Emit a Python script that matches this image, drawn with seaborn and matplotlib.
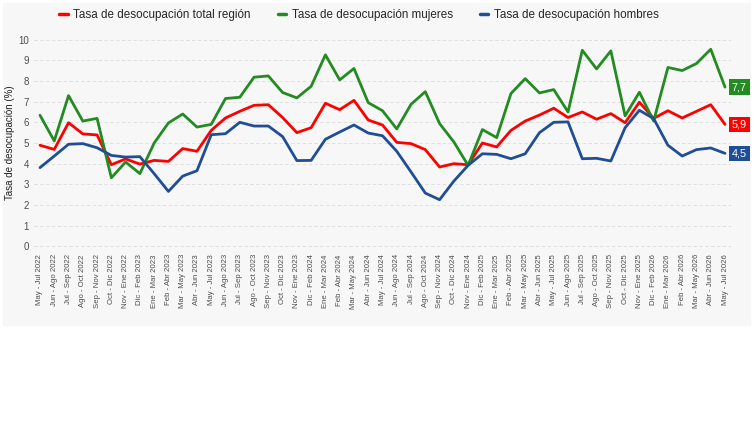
"""Recreate the regional unemployment-rate chart (total, women, men)."""
#####################################
# Imports At the Top
#####################################

import matplotlib

matplotlib.use("Agg")
import matplotlib.pyplot as plt
import pandas as pd
import seaborn as sns
from matplotlib.patches import Rectangle

#####################################
# Data
#####################################

periodos = [
    "May - Jul 2022", "Jun - Ago 2022", "Jul - Sep 2022", "Ago - Oct 2022",
    "Sep - Nov 2022", "Oct - Dic 2022", "Nov - Ene 2022", "Dic - Feb 2023",
    "Ene - Mar 2023", "Feb - Abr 2023", "Mar - May 2023", "Abr - Jun 2023",
    "May - Jul 2023", "Jun - Ago 2023", "Jul - Sep 2023", "Ago - Oct 2023",
    "Sep - Nov 2023", "Oct - Dic 2023", "Nov - Ene 2023", "Dic - Feb 2024",
    "Ene - Mar 2024", "Feb - Abr 2024", "Mar - May 2024", "Abr - Jun 2024",
    "May - Jul 2024", "Jun - Ago 2024", "Jul - Sep 2024", "Ago - Oct 2024",
    "Sep - Nov 2024", "Oct - Dic 2024", "Nov - Ene 2024", "Dic - Feb 2025",
    "Ene - Mar 2025", "Feb - Abr 2025", "Mar - May 2025", "Abr - Jun 2025",
    "May - Jul 2025", "Jun - Ago 2025", "Jul - Sep 2025", "Ago - Oct 2025",
    "Sep - Nov 2025", "Oct - Dic 2025", "Nov - Ene 2025", "Dic - Feb 2026",
    "Ene - Mar 2026", "Feb - Abr 2026", "Mar - May 2026", "Abr - Jun 2026",
    "May - Jul 2026",
]

tasa_total = [
    4.89, 4.69, 5.98, 5.44, 5.39, 3.95, 4.23, 3.98, 4.16, 4.11, 4.73, 4.60,
    5.61, 6.21, 6.53, 6.82, 6.85, 6.23, 5.50, 5.74, 6.92, 6.61, 7.06, 6.11,
    5.87, 5.03, 4.97, 4.68, 3.84, 4.00, 3.95, 5.00, 4.81, 5.61, 6.06, 6.35,
    6.68, 6.23, 6.50, 6.15, 6.42, 5.98, 6.97, 6.19, 6.56, 6.21, 6.53, 6.85,
    5.9,
]

tasa_mujeres = [
    6.34, 5.10, 7.29, 6.06, 6.19, 3.32, 4.08, 3.52, 5.00, 5.97, 6.40, 5.77,
    5.90, 7.15, 7.21, 8.18, 8.24, 7.44, 7.18, 7.74, 9.26, 8.05, 8.60, 6.95,
    6.56, 5.68, 6.87, 7.48, 5.94, 5.05, 3.92, 5.65, 5.26, 7.39, 8.11, 7.42,
    7.58, 6.50, 9.48, 8.58, 9.45, 6.31, 7.45, 6.06, 8.65, 8.50, 8.84, 9.53,
    7.7,
]

tasa_hombres = [
    3.81, 4.37, 4.94, 4.97, 4.77, 4.40, 4.32, 4.34, 3.52, 2.66, 3.40, 3.66,
    5.40, 5.45, 6.00, 5.82, 5.82, 5.31, 4.15, 4.16, 5.18, 5.53, 5.87, 5.48,
    5.35, 4.60, 3.60, 2.58, 2.26, 3.16, 3.92, 4.48, 4.45, 4.24, 4.48, 5.50,
    6.00, 6.02, 4.24, 4.26, 4.13, 5.74, 6.58, 6.18, 4.89, 4.37, 4.68, 4.76,
    4.5,
]

series = {
    "Tasa de desocupación total región": tasa_total,
    "Tasa de desocupación mujeres": tasa_mujeres,
    "Tasa de desocupación hombres": tasa_hombres,
}

colores = {
    "Tasa de desocupación total región": "#FF0000",
    "Tasa de desocupación mujeres": "#228B22",
    "Tasa de desocupación hombres": "#1F4E96",
}

#####################################
# Define Functions
#####################################


def build_frame() -> pd.DataFrame:
    """Turn the named lists into a long table for seaborn."""
    rows = []
    for name, values in series.items():
        for i, v in enumerate(values):
            rows.append({"idx": i, "periodo": periodos[i], "serie": name, "tasa": v})
    return pd.DataFrame(rows)


def draw_chart() -> None:
    """Draw the three unemployment series and save out.png."""
    sns.set_theme(style="white")
    plt.rcParams["font.family"] = ["Liberation Sans", "DejaVu Sans"]

    data = build_frame()

    fig = plt.figure(figsize=(7.54, 4.25), dpi=100, facecolor="white")
    panel = "#f7f7f7"
    fig.patches.append(
        Rectangle((3 / 754, 1 - 325 / 425), 747 / 754, 322 / 425,
                  transform=fig.transFigure, color=panel, zorder=-10)
    )
    ax = fig.add_axes([34 / 754, 1 - 250 / 425, 697 / 754, 214 / 425])
    ax.set_facecolor(panel)

    sns.lineplot(
        data=data, x="idx", y="tasa", hue="serie",
        hue_order=list(series.keys()), palette=colores,
        linewidth=2.0, ax=ax,
    )

    ax.set_xlim(-0.42, 48.42)
    ax.set_ylim(-0.17, 10.17)
    ax.set_yticks(range(0, 11))
    ax.set_xticks(range(len(periodos)))
    ax.set_xticklabels(periodos, rotation=90)
    ax.tick_params(axis="x", labelsize=5.6, colors="#8a8a8a", labelcolor="#4d4d4d",
                   length=2, width=0.6, pad=1)
    ax.tick_params(axis="y", labelsize=7, colors="#8a8a8a", labelcolor="#4d4d4d",
                   length=2, width=0.6, pad=1.5)
    ax.set_xlabel("")
    ax.set_ylabel("Tasa de desocupación (%)", fontsize=7, color="#222222")
    ax.yaxis.set_label_coords(-0.027, 0.5)
    ax.yaxis.grid(True, linestyle=(0, (4, 3)), color="#dcdcdc", linewidth=0.6)
    ax.xaxis.grid(False)
    for spine in ax.spines.values():
        spine.set_visible(False)

    # End-of-line value labels
    last = len(periodos) - 1
    for name, values in series.items():
        ax.annotate(
            f"{values[-1]:.1f}".replace(".", ","),
            xy=(last, values[-1]), xytext=(5, 0), textcoords="offset points",
            ha="left", va="center", fontsize=7.8, color="white",
            bbox=dict(boxstyle="square,pad=0.25", fc=colores[name], ec="none"),
            annotation_clip=False,
        )

    sns.move_legend(
        ax, "center", bbox_to_anchor=(359 / 754, 1 - 15 / 425),
        bbox_transform=fig.transFigure, ncol=3, frameon=False, title=None,
        fontsize=8.4, handlelength=0.7, handletextpad=0.5, columnspacing=2.3,
    )
    for line in ax.get_legend().get_lines():
        line.set_linewidth(2.5)

    fig.savefig("out.png", dpi=100, facecolor="white")


#####################################
# Define main()
#####################################


def main() -> None:
    """Build the chart."""
    draw_chart()


if __name__ == "__main__":
    main()
